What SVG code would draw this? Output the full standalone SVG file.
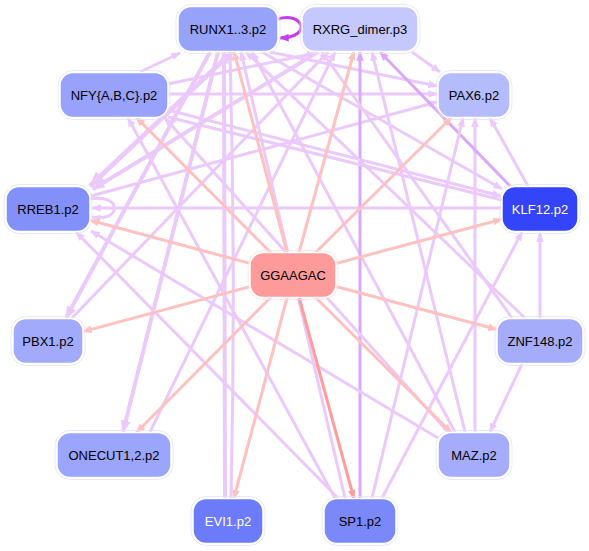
<svg xmlns="http://www.w3.org/2000/svg" width="589" height="551" viewBox="0 0 589 551">
<defs>
<style>
.e{fill:none;stroke-width:3;stroke-linecap:butt}
.l{stroke:#ebc9fb;marker-end:url(#aL)}
.d{stroke:#dba8f8;marker-end:url(#aD)}
.p{stroke:#ffc0c0;marker-end:url(#aP)}
.r{stroke:#ff9d9d;marker-end:url(#aR)}
.v{stroke:#c43cef;marker-end:url(#aV)}
.w4{stroke-width:4}
.w5{stroke-width:5}
.node rect.b{stroke:#ffffff;stroke-width:1.5}
.node rect.o{fill:none;stroke:#dfe3fe;stroke-width:0.8}
.node text{font-family:"Liberation Sans",Arial,sans-serif;font-size:13px;text-anchor:middle;fill:#000}
.node text.wt{fill:#fff}
</style>
<marker id="aL" viewBox="0 0 10 8" refX="9" refY="4" markerWidth="3.2" markerHeight="2.6" orient="auto"><path d="M0,0L10,4L0,8z" fill="#ebc9fb"/></marker>
<marker id="aD" viewBox="0 0 10 8" refX="9" refY="4" markerWidth="3.2" markerHeight="2.6" orient="auto"><path d="M0,0L10,4L0,8z" fill="#dba8f8"/></marker>
<marker id="aP" viewBox="0 0 10 8" refX="9" refY="4" markerWidth="3.2" markerHeight="2.6" orient="auto"><path d="M0,0L10,4L0,8z" fill="#ffc0c0"/></marker>
<marker id="aR" viewBox="0 0 10 8" refX="9" refY="4" markerWidth="3.2" markerHeight="2.6" orient="auto"><path d="M0,0L10,4L0,8z" fill="#ff9d9d"/></marker>
<marker id="aV" viewBox="0 0 10 8" refX="9" refY="4" markerWidth="3.2" markerHeight="2.6" orient="auto"><path d="M0,0L10,4L0,8z" fill="#c43cef"/></marker>
</defs>
<rect width="589" height="551" fill="#ffffff"/>
<g id="connectors">
<!-- lavender edges -->
<path class="e l w5" d="M232,52L90,186"/>
<path class="e l w4" d="M318,52L93,189"/>
<path class="e l w4" d="M210,52L66,318"/>
<path class="e l w4" d="M218,52L123,432"/>
<path class="e l" d="M140,72L180,53"/>
<path class="e l" d="M168,84L316,53"/>
<path class="e l" d="M168,94L437,94"/>
<path class="e l" d="M270,52L437,86"/>
<path class="e l" d="M412,52L440,72"/>
<path class="e l" d="M91,196L437,102"/>
<path class="e l" d="M501,208L92,208"/>
<path class="e l" d="M168,110L501,196"/>
<path class="e l" d="M455,432L252,52"/>
<path class="e l" d="M465,432L372,52"/>
<path class="e l" d="M475,432L475,118"/>
<path class="e l" d="M522,364L490,432"/>
<path class="e l" d="M540,318L540,233"/>
<path class="e d" d="M360,498L360,52"/>
<path class="e d" d="M510,186L380,52"/>
<path class="e l w4" d="M225,498L224,52"/>
<path class="e l" d="M231,498Q236,280 230,52"/>
<path class="e l" d="M345,498L241,52"/>
<path class="e l" d="M335,498L128,118"/>
<path class="e l" d="M338,498L76,232"/>
<path class="e l" d="M438,438L91,231"/>
<path class="e l" d="M525,318L246,52"/>
<path class="e l" d="M512,318L322,52"/>
<path class="e l" d="M502,200L168,117"/>
<path class="e l" d="M372,498L463,118"/>
<path class="e l" d="M528,186L490,118"/>
<path class="e l" d="M382,498L522,232"/>
<path class="e l" d="M150,432L335,52"/>
<path class="e l" d="M72,318L328,52"/>
<path class="e l" d="M448,432L165,118"/>
<path class="e l" d="M262,52L502,189"/>
<path class="e l" d="M90,199C122,193 122,223 92,217"/>
<!-- motif edges -->
<path class="e p" d="M287,252.5L234,51.5"/>
<path class="e p" d="M299,252.5L354,51.5"/>
<path class="e p" d="M270.6,252.5L136.4,117.5"/>
<path class="e p" d="M315.6,252.5L451.4,117.5"/>
<path class="e p" d="M250,263.4L90,220.3"/>
<path class="e p" d="M336,263.5L502,219.2"/>
<path class="e p" d="M250,286.6L83,331.6"/>
<path class="e p" d="M336,286.5L497,329.5"/>
<path class="e p" d="M270.6,297.5L136.4,432.5"/>
<path class="e p" d="M315.6,297.5L451.4,432.5"/>
<path class="e p" d="M287.1,297.5L233.9,498.5"/>
<path class="e r" d="M299.1,297.5L353.9,498.5"/>
<!-- RUNX self loop -->
<path class="e v" d="M278,19C302,11 314,37 280,38"/>
</g>
<g id="n-RUNX" class="node"><rect class="o" x="176" y="4.5" width="104" height="49" rx="15"/><rect class="b" x="178" y="6.5" width="100" height="45" rx="13" fill="#97a2fb"/><text x="228" y="33.5">RUNX1..3.p2</text></g>
<g id="n-RXRG" class="node"><rect class="o" x="300" y="4.5" width="120" height="49" rx="15"/><rect class="b" x="302" y="6.5" width="116" height="45" rx="13" fill="#c4c8fc"/><text x="360" y="33.5">RXRG_dimer.p3</text></g>
<g id="n-NFY" class="node"><rect class="o" x="58" y="70.5" width="112" height="49" rx="15"/><rect class="b" x="60" y="72.5" width="108" height="45" rx="13" fill="#98a2fa"/><text x="114" y="99.5">NFY{A,B,C}.p2</text></g>
<g id="n-PAX6" class="node"><rect class="o" x="436" y="70.5" width="76" height="49" rx="15"/><rect class="b" x="438" y="72.5" width="72" height="45" rx="13" fill="#b5bcfb"/><text x="474" y="99.5">PAX6.p2</text></g>
<g id="n-RREB1" class="node"><rect class="o" x="4" y="184.5" width="88" height="49" rx="15"/><rect class="b" x="6" y="186.5" width="84" height="45" rx="13" fill="#8390fa"/><text x="48" y="213.5">RREB1.p2</text></g>
<g id="n-KLF12" class="node"><rect class="o" x="500" y="184.5" width="80" height="49" rx="15"/><rect class="b" x="502" y="186.5" width="76" height="45" rx="13" fill="#3444f8"/><text class="wt" x="540" y="213.5">KLF12.p2</text></g>
<g id="n-GGAAGAC" class="node"><rect class="o" x="248" y="250.5" width="90" height="49" rx="15" style="stroke:#ffe0e0"/><rect class="b" x="250" y="252.5" width="86" height="45" rx="13" fill="#ff9a9a"/><text x="293" y="279.5">GGAAGAC</text></g>
<g id="n-PBX1" class="node"><rect class="o" x="11" y="316.5" width="74" height="49" rx="15"/><rect class="b" x="13" y="318.5" width="70" height="45" rx="13" fill="#a1aafb"/><text x="48" y="345.5">PBX1.p2</text></g>
<g id="n-ZNF148" class="node"><rect class="o" x="495" y="316.5" width="90" height="49" rx="15"/><rect class="b" x="497" y="318.5" width="86" height="45" rx="13" fill="#a5adfb"/><text x="540" y="345.5">ZNF148.p2</text></g>
<g id="n-ONECUT" class="node"><rect class="o" x="55" y="430.5" width="118" height="49" rx="15"/><rect class="b" x="57" y="432.5" width="114" height="45" rx="13" fill="#9ba5fb"/><text x="114" y="459.5">ONECUT1,2.p2</text></g>
<g id="n-MAZ" class="node"><rect class="o" x="436" y="430.5" width="76" height="49" rx="15"/><rect class="b" x="438" y="432.5" width="72" height="45" rx="13" fill="#a4acfb"/><text x="474" y="459.5">MAZ.p2</text></g>
<g id="n-EVI1" class="node"><rect class="o" x="191" y="496.5" width="74" height="49" rx="15"/><rect class="b" x="193" y="498.5" width="70" height="45" rx="13" fill="#6c7bf9"/><text class="wt" x="228" y="525.5">EVI1.p2</text></g>
<g id="n-SP1" class="node"><rect class="o" x="322" y="496.5" width="76" height="49" rx="15"/><rect class="b" x="324" y="498.5" width="72" height="45" rx="13" fill="#7b88fa"/><text x="360" y="525.5">SP1.p2</text></g>
</svg>
